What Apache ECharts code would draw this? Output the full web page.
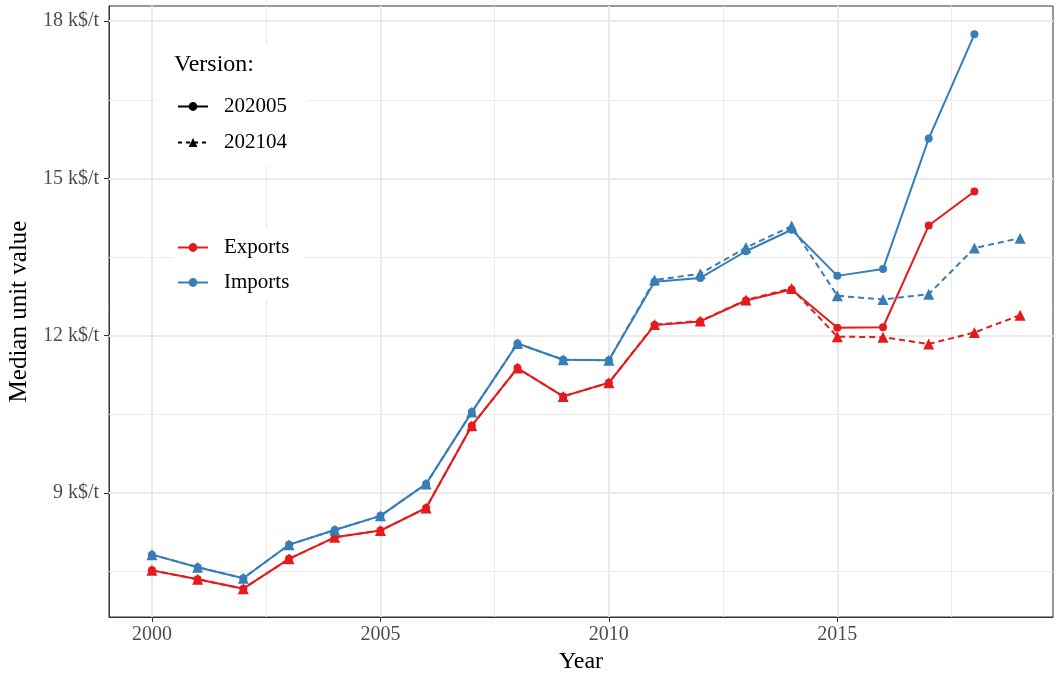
<!DOCTYPE html>
<html>
<head>
<meta charset="utf-8">
<script src="https://cdn.jsdelivr.net/npm/echarts@6/dist/echarts.min.js"></script>
<style>
html,body{margin:0;padding:0;background:#fff;}
#chart{width:1055px;height:676px;}
</style>
</head>
<body>
<div id="chart"></div>
<script>
// ---- data ----
const years = [2000,2001,2002,2003,2004,2005,2006,2007,2008,2009,2010,2011,2012,2013,2014,2015,2016,2017,2018,2019];
const exports202005 = [7.52,7.35,7.17,7.74,8.15,8.28,8.71,10.28,11.38,10.84,11.10,12.20,12.27,12.67,12.88,12.15,12.16,14.10,14.75];
const exports202104 = [7.52,7.35,7.17,7.74,8.15,8.28,8.71,10.28,11.38,10.84,11.10,12.21,12.28,12.68,12.90,11.98,11.97,11.84,12.06,12.39];
const imports202005 = [7.82,7.58,7.37,8.01,8.29,8.56,9.17,10.54,11.85,11.54,11.53,13.03,13.10,13.61,14.02,13.14,13.27,15.76,17.75];
const imports202104 = [7.82,7.58,7.37,8.01,8.29,8.56,9.17,10.54,11.85,11.54,11.53,13.06,13.18,13.68,14.09,12.76,12.69,12.79,13.67,13.86];
const xTicks = [2000,2005,2010,2015];
const xMinor = [2002.5,2007.5,2012.5,2017.5];
const yTicks = [9,12,15,18];
const yMinor = [7.5,10.5,13.5,16.5];
const versions = ['202005','202104'];
const flows = ['Exports','Imports'];

const RED = '#E41A1C', BLUE = '#377EB8';
const FONT = '"Liberation Serif", "DejaVu Serif", serif';

function pairs(vals){ return vals.map((v,i)=>[years[i], v]); }

function dataSeries(name, vals, color, dashed){
  return {
    name: name, type: 'line', data: pairs(vals),
    symbol: dashed ? 'triangle' : 'circle',
    symbolSize: dashed ? 11 : 8,
    lineStyle: {color: color, width: 2, type: dashed ? [6,4] : 'solid'},
    itemStyle: {color: color, borderWidth: 0},
    emphasis: {disabled: true},
    animation: false, z: 3
  };
}

const gridLines = [];
xTicks.forEach(v=>gridLines.push({xAxis: v, lineStyle:{color:'#EBEBEB', width:2, type:'solid'}}));
xMinor.forEach(v=>gridLines.push({xAxis: v, lineStyle:{color:'#EBEBEB', width:1, type:'solid'}}));
yTicks.forEach(v=>gridLines.push({yAxis: v, lineStyle:{color:'#EBEBEB', width:2, type:'solid'}}));
yMinor.forEach(v=>gridLines.push({yAxis: v, lineStyle:{color:'#EBEBEB', width:1, type:'solid'}}));

const series = [
  {
    name: '_grid', type: 'line', data: [], z: 1, silent: true,
    markLine: {silent: true, z: 1, symbol: ['none','none'], label: {show:false}, animation:false, data: gridLines}
  },
  dataSeries('Exports 202005', exports202005, RED, false),
  dataSeries('Imports 202005', imports202005, BLUE, false),
  dataSeries('Exports 202104', exports202104, RED, true),
  dataSeries('Imports 202104', imports202104, BLUE, true),
  // legend-only series
  {name: versions[0], type:'line', data:[], symbol:'circle', symbolSize:8, lineStyle:{color:'#000', width:2}, itemStyle:{color:'#000'}},
  {name: versions[1], type:'line', data:[], symbol:'triangle', symbolSize:11, lineStyle:{color:'#000', width:2, type:[4,4]}, itemStyle:{color:'#000'}},
  {name: flows[0], type:'line', data:[], symbol:'circle', symbolSize:8, lineStyle:{color:RED, width:2}, itemStyle:{color:RED}},
  {name: flows[1], type:'line', data:[], symbol:'circle', symbolSize:8, lineStyle:{color:BLUE, width:2}, itemStyle:{color:BLUE}}
];

const legendText = {fontFamily: FONT, fontSize: 21, color: '#000', padding: [0,0,0,11]};

const option = {
  animation: false,
  backgroundColor: '#fff',
  grid: {left: 109, right: 2, top: 6, bottom: 59, show: true, borderColor: '#333', borderWidth: 1,
         backgroundColor: 'transparent', containLabel: false, outerBoundsMode: 'none'},
  xAxis: {
    type: 'value', min: 1999.06, max: 2019.72,
    name: 'Year', nameLocation: 'middle', nameGap: 31,
    nameTextStyle: {fontFamily: FONT, fontSize: 24, color: '#000'},
    axisLine: {show: true, onZero: false, lineStyle: {color: '#333', width: 1}},
    axisTick: {show: true, length: 5, customValues: xTicks, lineStyle: {color: '#333', width: 1}},
    axisLabel: {customValues: xTicks, fontFamily: FONT, fontSize: 20, color: '#4D4D4D', margin: 8, formatter: v => String(v)},
    splitLine: {show: false}, minorSplitLine: {show: false}
  },
  yAxis: {
    type: 'value', min: 6.63, max: 18.29,
    name: 'Median unit value', nameLocation: 'middle', nameGap: 75, nameRotate: 90,
    nameTextStyle: {fontFamily: FONT, fontSize: 25, color: '#000'},
    axisLine: {show: true, onZero: false, lineStyle: {color: '#333', width: 1}},
    axisTick: {show: true, length: 5, customValues: yTicks, lineStyle: {color: '#333', width: 1}},
    axisLabel: {customValues: yTicks, fontFamily: FONT, fontSize: 20, color: '#4D4D4D', margin: 10, formatter: v => v + ' k$/t'},
    splitLine: {show: false}
  },
  graphic: {
    z: 2,
    elements: [
      {type: 'rect', left: 157, top: 44, z: 2, shape: {width: 150, height: 122}, style: {fill: '#fff'}, silent: true},
      {type: 'rect', left: 173, top: 228, z: 2, shape: {width: 130, height: 72}, style: {fill: '#fff'}, silent: true},
      {type: 'text', left: 174, top: 53, z: 3, style: {text: 'Version:', fontFamily: FONT, fontSize: 24, fill: '#000'}}
    ]
  },
  legend: [
    {
      data: versions, orient: 'vertical', left: 177, top: 96, padding: 0,
      itemWidth: 30, itemHeight: 11, itemGap: 15, selectedMode: false,
      textStyle: legendText, backgroundColor: 'transparent'
    },
    {
      data: flows, orient: 'vertical', left: 177, top: 237, padding: 0,
      itemWidth: 30, itemHeight: 11, itemGap: 14, selectedMode: false,
      textStyle: legendText, backgroundColor: 'transparent'
    }
  ],
  series: series
};

const chart = echarts.init(document.getElementById('chart'), null, {renderer: 'canvas'});
chart.setOption(option);
</script>
</body>
</html>
